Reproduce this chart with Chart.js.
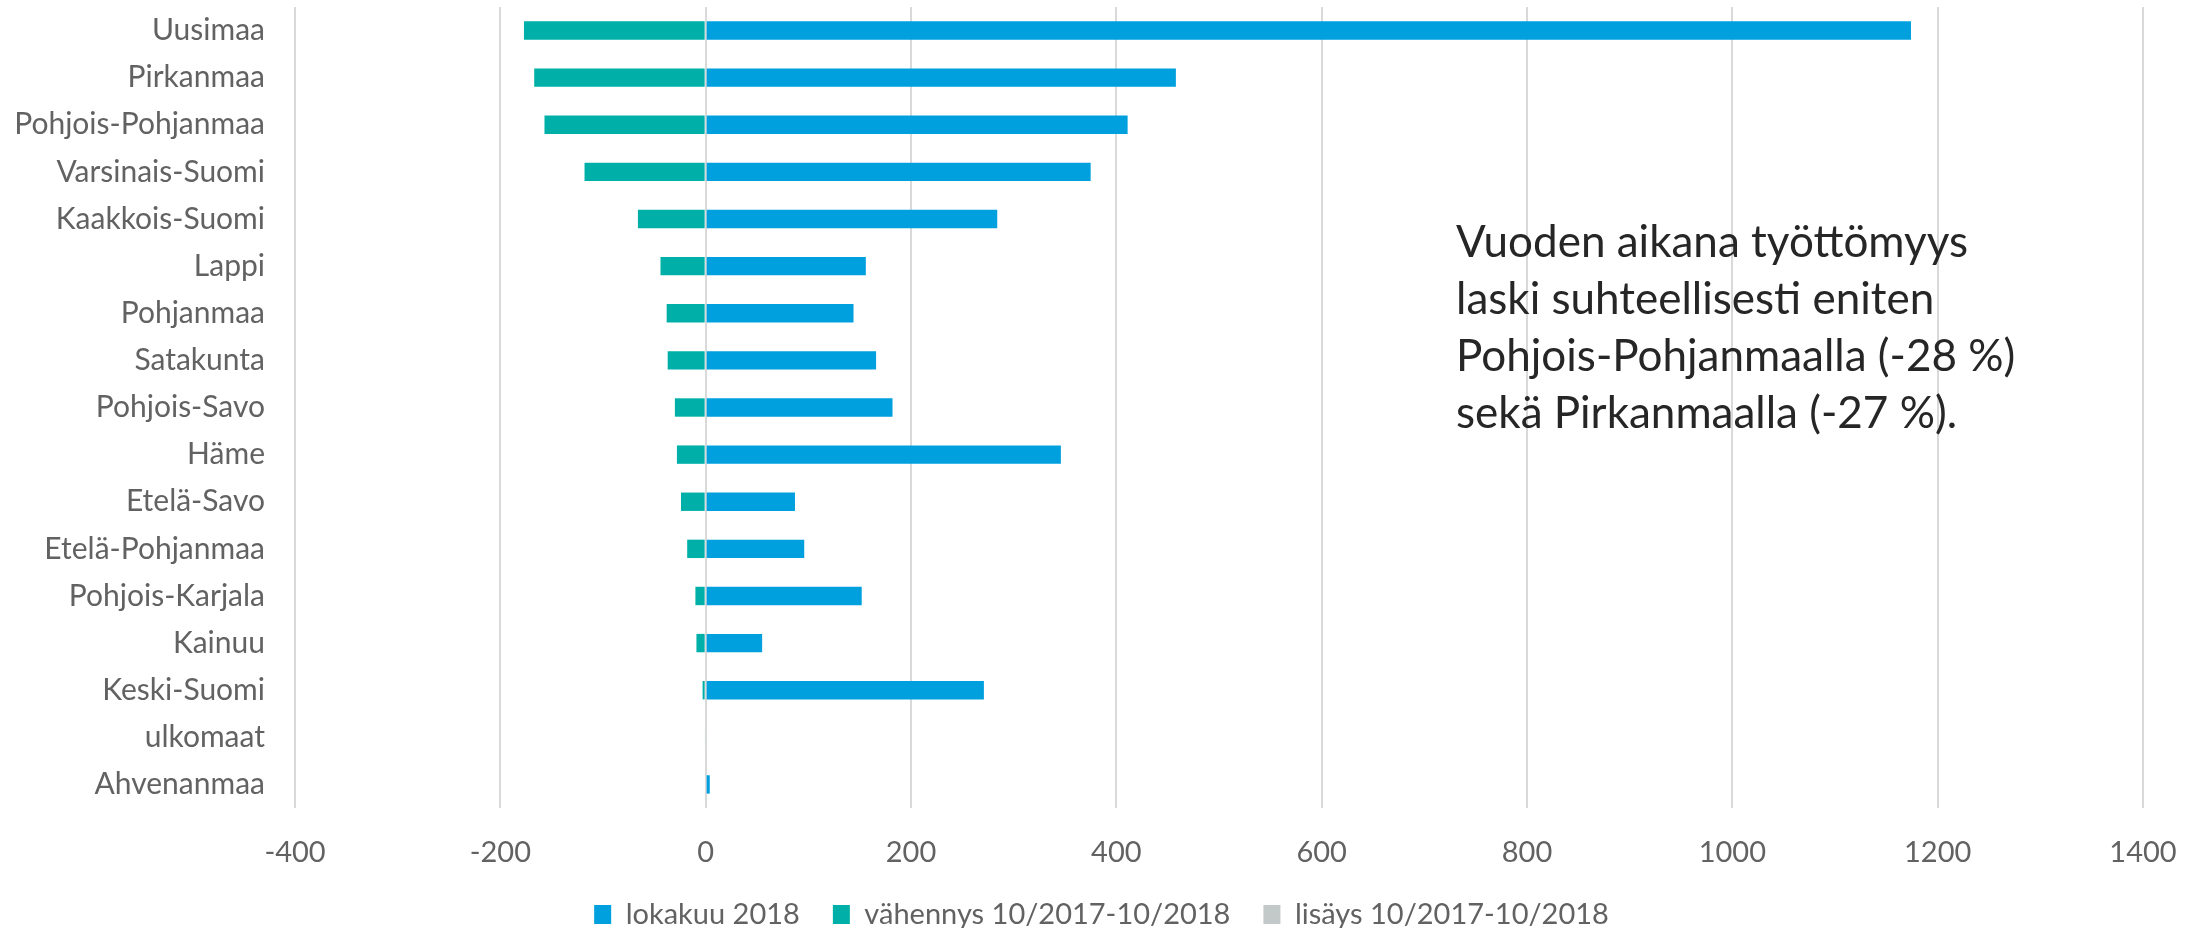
<!DOCTYPE html>
<html lang="fi">
<head>
<meta charset="UTF-8">
<title>Työttömyys maakunnittain</title>
<script src="https://cdn.jsdelivr.net/npm/chart.js"></script>
<style>
  html, body { margin: 0; padding: 0; background: #fff; }
</style>
</head>
<body>
<canvas id="chart" width="2203" height="928"></canvas>
<script>
// categories, top to bottom
const regions = ['Uusimaa', 'Pirkanmaa', 'Pohjois-Pohjanmaa', 'Varsinais-Suomi', 'Kaakkois-Suomi',
  'Lappi', 'Pohjanmaa', 'Satakunta', 'Pohjois-Savo', 'Häme', 'Etelä-Savo', 'Etelä-Pohjanmaa',
  'Pohjois-Karjala', 'Kainuu', 'Keski-Suomi', 'ulkomaat', 'Ahvenanmaa'];

// series values
const lokakuu2018 = [1174, 458, 411, 375, 284, 156, 144, 166, 182, 346, 87, 96, 152, 55, 271, 0, 4];
const vahennys = [-177, -167, -157, -118, -66, -44, -38, -37, -30, -28, -24, -18, -10, -9, -3, -1, 0];
const lisays = [0, 0, 0, 0, 0, 0, 0, 0, 0, 0, 0, 0, 0, 0, 0, 0, 0];

const seriesNames = ['lokakuu 2018', 'vähennys 10/2017-10/2018', 'lisäys 10/2017-10/2018'];

const noteLines = ['Vuoden aikana työttömyys', 'laski suhteellisesti eniten',
  'Pohjois-Pohjanmaalla (-28 %)', 'sekä Pirkanmaalla (-27 %).'];

const FONT = 'Lato, "Open Sans", sans-serif';
const GREY = '#626262';

// the text box on the right side of the plot
const notePlugin = {
  id: 'note',
  afterDraw(chart) {
    const c = chart.ctx;
    c.save();
    c.font = '44px ' + FONT;
    c.fillStyle = '#262626';
    c.textBaseline = 'alphabetic';
    c.textAlign = 'left';
    noteLines.forEach((t, i) => c.fillText(t, 1456, 257 + i * 57));
    c.restore();
  }
};

new Chart(document.getElementById('chart'), {
  type: 'bar',
  data: {
    labels: regions,
    datasets: [
      { label: seriesNames[0], data: lokakuu2018, backgroundColor: '#00A0DF' },
      { label: seriesNames[1], data: vahennys, backgroundColor: '#00B0A8' },
      { label: seriesNames[2], data: lisays, backgroundColor: '#C3C9C9' }
    ]
  },
  options: {
    indexAxis: 'y',
    responsive: false,
    animation: false,
    events: [],
    layout: { padding: { top: 7, right: 0, left: 0, bottom: -11 } },
    datasets: { bar: { categoryPercentage: 1, barPercentage: 0.39 } },
    scales: {
      x: {
        stacked: true,
        min: -400, max: 1400,
        ticks: {
          stepSize: 200, color: GREY, font: { family: FONT, size: 29 }, padding: 27,
          callback: (v) => String(v)
        },
        grid: { color: '#D9D9D9', lineWidth: 2, drawTicks: false },
        border: { display: false },
        afterFit(scale) {
          scale.paddingRight = 60;
          scale.height = 59;
        }
      },
      y: {
        stacked: true,
        ticks: { color: GREY, font: { family: FONT, size: 30 }, padding: 30, autoSkip: false },
        grid: { display: false, drawTicks: false },
        border: { display: false },
        afterFit(scale) {
          scale.width = 295;
          scale.paddingTop = 0;
          scale.paddingBottom = 0;
        }
      }
    },
    plugins: {
      tooltip: { enabled: false },
      legend: {
        position: 'bottom',
        labels: {
          color: GREY,
          font: { family: FONT, size: 29 },
          boxWidth: 17,
          boxHeight: 19,
          padding: 33
        }
      }
    }
  },
  plugins: [notePlugin]
});
</script>
</body>
</html>
